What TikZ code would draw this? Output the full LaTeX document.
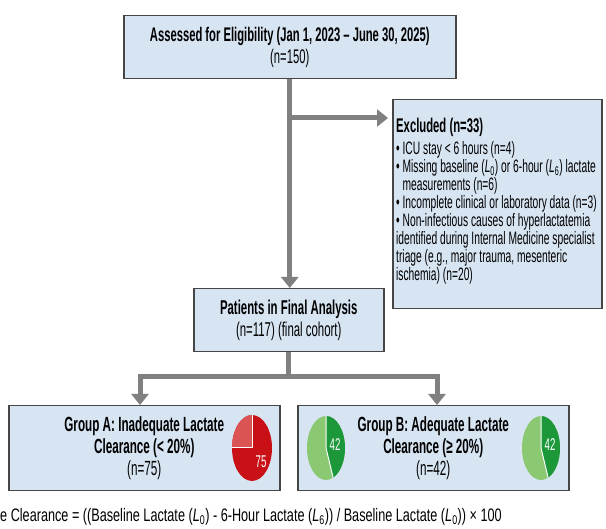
\documentclass[tikz,border=0pt]{standalone}
\usepackage{fontspec}
\setmainfont{Liberation Sans}[FakeStretch=0.57]
\newfontfamily\formulafont{Liberation Sans}[FakeStretch=0.7]
\usetikzlibrary{arrows.meta}

\definecolor{boxblue}{RGB}{215,228,242}
\definecolor{boxline}{RGB}{70,70,70}
\definecolor{flowgray}{RGB}{128,128,128}
\definecolor{piereddark}{RGB}{200,16,22}
\definecolor{piered}{RGB}{218,84,84}
\definecolor{piegreendark}{RGB}{28,152,58}
\definecolor{piegreen}{RGB}{138,200,114}

\tikzset{
  flowbox/.style={draw=boxline, fill=boxblue, line width=1.5bp, inner sep=0pt,
    align=center, font=\fontsize{20bp}{22bp}\selectfont},
  flowline/.style={draw=flowgray, line width=5bp},
  flowarrow/.style={flowline, -{Triangle[length=11bp,width=17bp]}},
  pielabel/.style={text=white, inner sep=0pt, font=\fontsize{17bp}{18bp}\selectfont},
  pieedge/.style={draw=white, line width=1bp}
}

\begin{document}
\begin{tikzpicture}[x=1bp,y=1bp]
 \useasboundingbox (0,0) rectangle (606,529);

 %Screening Box
 \node[flowbox, anchor=north west, minimum width=332bp, minimum height=63bp,
   font=\fontsize{19.7bp}{22bp}\selectfont] (assessed) at (123,514)
   {\textbf{Assessed for Eligibility (Jan 1, 2023 -- June 30, 2025)}\\(n=150)};

 %Exclusion Box
 \node[flowbox, anchor=north west, minimum width=209bp, minimum height=209bp] (exclbox) at (392,430) {};
 \node[anchor=north west, align=left, inner sep=0pt, font=\fontsize{18bp}{18bp}\selectfont] (excltext) at (396,411)
   {{\fontsize{19.8bp}{20bp}\selectfont\bfseries Excluded (n=33)}\\[4bp]
    \textbullet\ ICU stay < 6 hours (n=4)\\
    \textbullet\ Missing baseline (\textit{L}\textsubscript{0}) or 6-hour (\textit{L}\textsubscript{6}) lactate\\
    \phantom{\textbullet\ }measurements (n=6)\\
    \textbullet\ Incomplete clinical or laboratory data (n=3)\\
    \textbullet\ Non-infectious causes of hyperlactatemia\\
    identified during Internal Medicine specialist\\
    triage (e.g., major trauma, mesenteric\\
    ischemia) (n=20)};

 %Final Cohort Box
 \node[flowbox, anchor=north west, minimum width=190bp, minimum height=63bp] (patients) at (193,241)
   {\textbf{Patients in Final Analysis}\\(n=117) (final cohort)};

 %Group Boxes
 \node[flowbox, anchor=north west, minimum width=271bp, minimum height=85bp,
   font=\fontsize{20.5bp}{22bp}\selectfont] (groupa) at (8,124)
   {\textbf{Group A: Inadequate Lactate}\\\textbf{Clearance (< 20\%)}\\(n=75)};
 \node[flowbox, anchor=north west, minimum width=271bp, minimum height=85bp,
   font=\fontsize{20.5bp}{22bp}\selectfont] (groupb) at (297,124)
   {\textbf{Group B: Adequate Lactate}\\\textbf{Clearance (≥ 20\%)}\\(n=42)};

 %Flow Arrows
 \coordinate (split) at (289,411);
 \coordinate (forka) at (140,152);
 \coordinate (forkb) at (437,152);
 \draw[flowarrow] (assessed.south) -- (assessed.south |- patients.north);
 \draw[flowarrow, shorten >=4bp] (split) -- (split -| exclbox.west);
 \draw[flowline] (patients.south) -- (patients.south |- forka);
 \draw[flowarrow] (forkb) -- (forka) -- (forka |- groupa.north);
 \draw[flowarrow] (forka) -- (forkb) -- (forkb |- groupb.north);

 %Pie for Group A
 \fill[piereddark] (252,81) ellipse [x radius=20, y radius=33];
 \fill[piered] (252,81) -- ++(0,33) arc[start angle=90, end angle=180, x radius=20, y radius=33] -- cycle;
 \draw[pieedge] (252,114) -- (252,81) -- (232,81);
 \node[pielabel] (pieacount) at (261,67) {75};

 %Pies for Group B
 \fill[piegreen] (326,81) ellipse [x radius=19, y radius=32];
 \fill[piegreendark] (326,81) -- ++(0,32) arc[start angle=90, end angle=-68, x radius=19, y radius=32] -- cycle;
 \draw[pieedge] (326,113) -- (326,81) -- ++(-68:19 and 32);
 \node[pielabel] (pieblcount) at (335,84) {42};

 \fill[piegreen] (541,81) ellipse [x radius=19, y radius=32];
 \fill[piegreendark] (541,81) -- ++(0,32) arc[start angle=90, end angle=-68, x radius=19, y radius=32] -- cycle;
 \draw[pieedge] (541,113) -- (541,81) -- ++(-68:19 and 32);
 \node[pielabel] (piebrcount) at (550,84) {42};

 %Clearance Formula
 \node[anchor=base west, inner sep=0pt, font=\formulafont\fontsize{18.1bp}{20bp}\selectfont] (formula) at (0,7)
   {e Clearance = ((Baseline Lactate (\textit{L}\textsubscript{0}) - 6-Hour Lactate (\textit{L}\textsubscript{6})) / Baseline Lactate (\textit{L}\textsubscript{0})) × 100};

\end{tikzpicture}
\end{document}
